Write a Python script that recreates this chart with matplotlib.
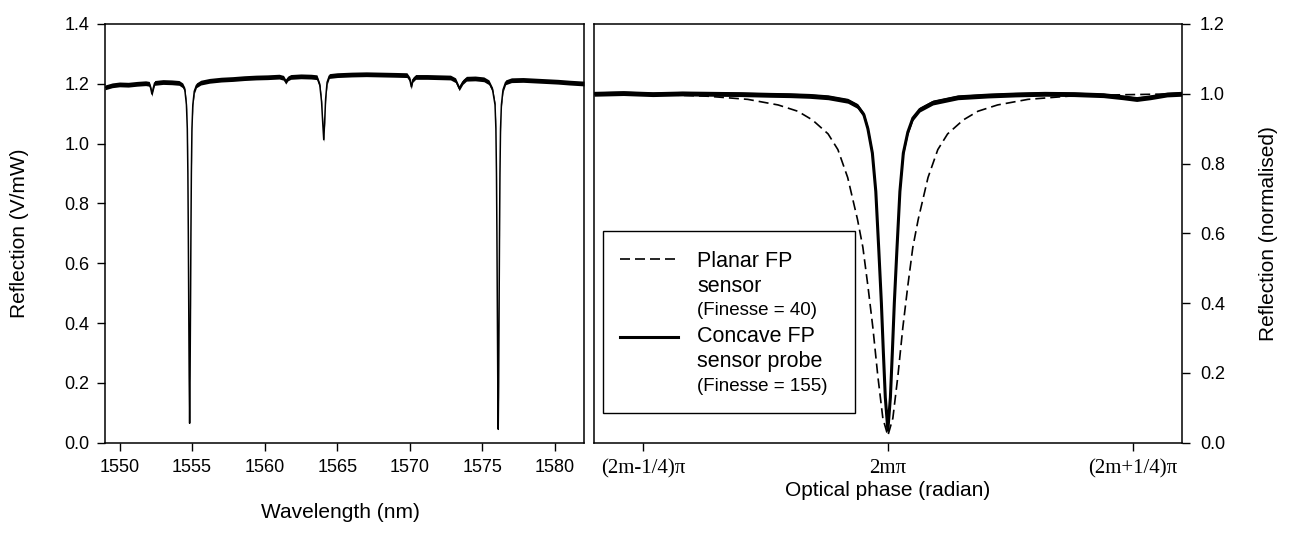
import numpy as np
import matplotlib
matplotlib.use("Agg")
import matplotlib.pyplot as plt
from matplotlib.lines import Line2D
from matplotlib.patches import Rectangle

plt.rcParams['font.family'] = ['Liberation Sans', 'DejaVu Sans']

# ---- left panel: reflection spectrum (V/mW) vs wavelength (nm)
wavelength = [1549.0, 1549.5, 1550.0, 1550.6, 1551.2, 1551.8, 1552.05, 1552.15, 1552.23, 1552.32,
              1552.42, 1553.0, 1553.6, 1554.1, 1554.35, 1554.5, 1554.61, 1554.67, 1554.71, 1554.74,
              1554.77, 1554.80, 1554.83, 1554.86, 1554.89, 1554.92, 1554.95, 1554.99, 1555.05, 1555.15,
              1555.3, 1555.6, 1556.2, 1557.0, 1557.8, 1558.6, 1559.4, 1560.2, 1561.0, 1561.3,
              1561.45, 1561.6, 1561.8, 1562.5, 1563.2, 1563.6, 1563.8, 1563.92, 1564.0, 1564.07,
              1564.13, 1564.2, 1564.3, 1564.45, 1565.0, 1566.0, 1567.0, 1568.0, 1569.0, 1569.8,
              1570.0, 1570.1, 1570.2, 1570.4, 1571.2, 1572.0, 1572.8, 1573.15, 1573.4, 1573.65,
              1573.9, 1574.5, 1575.1, 1575.45, 1575.7, 1575.87, 1575.93, 1575.97, 1576.0, 1576.03,
              1576.06, 1576.09, 1576.12, 1576.15, 1576.18, 1576.21, 1576.25, 1576.31, 1576.42, 1576.6,
              1577.0, 1577.8, 1578.6, 1579.4, 1580.2, 1581.0, 1582.0]
reflection = [1.188, 1.195, 1.198, 1.197, 1.200, 1.202, 1.200, 1.185, 1.166, 1.185,
              1.203, 1.206, 1.205, 1.203, 1.195, 1.180, 1.130, 1.050, 0.900, 0.700,
              0.450, 0.220, 0.065, 0.220, 0.450, 0.700, 0.900, 1.050, 1.130, 1.175,
              1.195, 1.204, 1.210, 1.214, 1.216, 1.219, 1.221, 1.222, 1.224, 1.220,
              1.207, 1.218, 1.223, 1.225, 1.224, 1.222, 1.195, 1.140, 1.070, 1.013,
              1.070, 1.150, 1.205, 1.226, 1.229, 1.231, 1.232, 1.231, 1.230, 1.229,
              1.215, 1.190, 1.213, 1.223, 1.223, 1.222, 1.221, 1.212, 1.185, 1.206,
              1.217, 1.218, 1.215, 1.205, 1.180, 1.130, 1.050, 0.900, 0.700, 0.450,
              0.200, 0.045, 0.200, 0.450, 0.700, 0.900, 1.050, 1.130, 1.180, 1.205,
              1.212, 1.213, 1.211, 1.209, 1.207, 1.204, 1.201]
spectrum_noise = 0.008   # half-width of the noisy trace

# ---- right panel: normalised reflection vs optical phase, (phase - 2m*pi) in units of pi
phase_planar = [-0.300, -0.235, -0.184, -0.143, -0.112, -0.092, -0.077, -0.061, -0.051, -0.041,
                -0.031, -0.0255, -0.0204, -0.0153, -0.0102, -0.0051, 0.0, 0.0051, 0.0102, 0.0153,
                0.0204, 0.0255, 0.031, 0.041, 0.051, 0.061, 0.077, 0.092, 0.112, 0.143,
                0.184, 0.235, 0.300]
refl_planar = [1.000, 0.998, 0.993, 0.984, 0.968, 0.950, 0.925, 0.885, 0.840, 0.760,
               0.640, 0.560, 0.450, 0.330, 0.190, 0.070, 0.020, 0.070, 0.190, 0.330,
               0.450, 0.560, 0.640, 0.760, 0.840, 0.885, 0.925, 0.950, 0.968, 0.984,
               0.993, 0.997, 1.000]

phase_concave = [-0.300, -0.270, -0.240, -0.210, -0.180, -0.150, -0.120, -0.100, -0.080, -0.061,
                 -0.041, -0.031, -0.0245, -0.0204, -0.0158, -0.0123, -0.0092, -0.0066, -0.0046, -0.0026,
                 0.0, 0.0026, 0.0046, 0.0066, 0.0092, 0.0123, 0.0158, 0.0204, 0.0255, 0.0327,
                 0.046, 0.0715, 0.102, 0.130, 0.160, 0.190, 0.220, 0.240, 0.254, 0.268,
                 0.285, 0.300]
refl_concave = [1.000, 1.002, 0.999, 1.001, 1.000, 0.999, 0.997, 0.996, 0.994, 0.990,
                0.980, 0.965, 0.940, 0.900, 0.830, 0.720, 0.550, 0.400, 0.260, 0.130,
                0.036, 0.130, 0.260, 0.400, 0.550, 0.720, 0.830, 0.890, 0.930, 0.955,
                0.975, 0.990, 0.995, 0.998, 1.000, 0.999, 0.996, 0.990, 0.985, 0.990,
                0.998, 1.000]
phase_noise = 0.007

left_xticks = [1550, 1555, 1560, 1565, 1570, 1575, 1580]
left_yticks = [0.0, 0.2, 0.4, 0.6, 0.8, 1.0, 1.2, 1.4]
right_yticks = [0.0, 0.2, 0.4, 0.6, 0.8, 1.0, 1.2]
phase_ticks = [-0.25, 0.0, 0.25]
phase_labels = ['(2m-1/4)\u03c0', '2m\u03c0', '(2m+1/4)\u03c0']

W, H = 1291, 535
fig = plt.figure(figsize=(W / 100, H / 100), dpi=100)

def px(x0, y0, x1, y1):
    return [x0 / W, 1 - y1 / H, (x1 - x0) / W, (y1 - y0) / H]

ax1 = fig.add_axes(px(105, 24, 584, 442.7))
ax2 = fig.add_axes(px(594, 24, 1181.7, 442.7))

for ax in (ax1, ax2):
    for s in ax.spines.values():
        s.set_linewidth(1.1)
    ax.tick_params(direction='out', length=6, width=1.0, labelsize=13, pad=6)

# left panel
wl = np.array(wavelength)
rf = np.array(reflection)
ax1.plot(wl, rf, color='black', lw=1.1)
ax1.fill_between(wl, rf - spectrum_noise, rf + spectrum_noise, color='black', lw=0)
ax1.set_xlim(1549.0, 1582.0)
ax1.set_ylim(0, 1.4)
ax1.set_xticks(left_xticks)
ax1.set_yticks(left_yticks)
ax1.set_yticklabels(['%.1f' % v for v in left_yticks])
ax1.tick_params(axis='y', pad=5)
ax1.set_xlabel('Wavelength (nm)', fontsize=15)
ax1.set_ylabel('Reflection (V/mW)', fontsize=15)
ax1.xaxis.set_label_coords((340 - 105) / 479, (442.7 - 512) / 418.7)
ax1.xaxis.label.set_va('center')
ax1.yaxis.set_label_coords((20 - 105) / 479, 0.5)
ax1.yaxis.label.set_va('center')

# right panel
ph = np.array(phase_concave)
pc = np.array(refl_concave)
ax2.plot(phase_planar, refl_planar, color='black', lw=1.2, dashes=(6, 3))
ax2.plot(ph, pc, color='black', lw=2.2)
ax2.fill_between(ph, pc - phase_noise, pc + phase_noise, color='black', lw=0)
ax2.set_xlim(-0.3, 0.3)
ax2.set_ylim(0, 1.2)
ax2.set_xticks(phase_ticks)
ax2.set_xticklabels(phase_labels, family=['Liberation Serif', 'DejaVu Serif'], fontsize=15)
ax2.yaxis.tick_right()
ax2.yaxis.set_label_position('right')
ax2.set_yticks(right_yticks)
ax2.set_yticklabels(['%.1f' % v for v in right_yticks])
ax2.tick_params(axis='y', pad=7)
ax2.set_xlabel('Optical phase (radian)', fontsize=15)
ax2.set_ylabel('Reflection (normalised)', fontsize=15)
ax2.xaxis.set_label_coords(0.5, (442.7 - 491) / 418.7)
ax2.xaxis.label.set_va('center')
ax2.yaxis.set_label_coords((1268 - 594) / 587.7, 0.5)
ax2.yaxis.label.set_va('center')

# legend box drawn in figure pixels
tf = fig.transFigure
fig.patches.append(Rectangle((603 / W, 1 - 412.7 / H), 252 / W, 181.7 / H, transform=tf,
                             fill=False, edgecolor='black', lw=1.0))
fig.lines.append(Line2D([620 / W, 678 / W], [1 - 259.3 / H] * 2, transform=tf,
                        color='black', lw=1.2, dashes=(6, 3)))
fig.lines.append(Line2D([620 / W, 678 / W], [1 - 337.3 / H] * 2, transform=tf,
                        color='black', lw=2.2))
legend_rows = [('Planar FP', 261.7, 15.5), ('sensor', 286.7, 15.5), ('(Finesse = 40)', 310.7, 13.5),
               ('Concave FP', 336.7, 15.5), ('sensor probe', 361.7, 15.5), ('(Finesse = 155)', 386.7, 13.5)]
for txt, yy, fs in legend_rows:
    fig.text(697 / W, 1 - yy / H, txt, fontsize=fs, va='center', ha='left')

fig.savefig('out.png', dpi=100)
